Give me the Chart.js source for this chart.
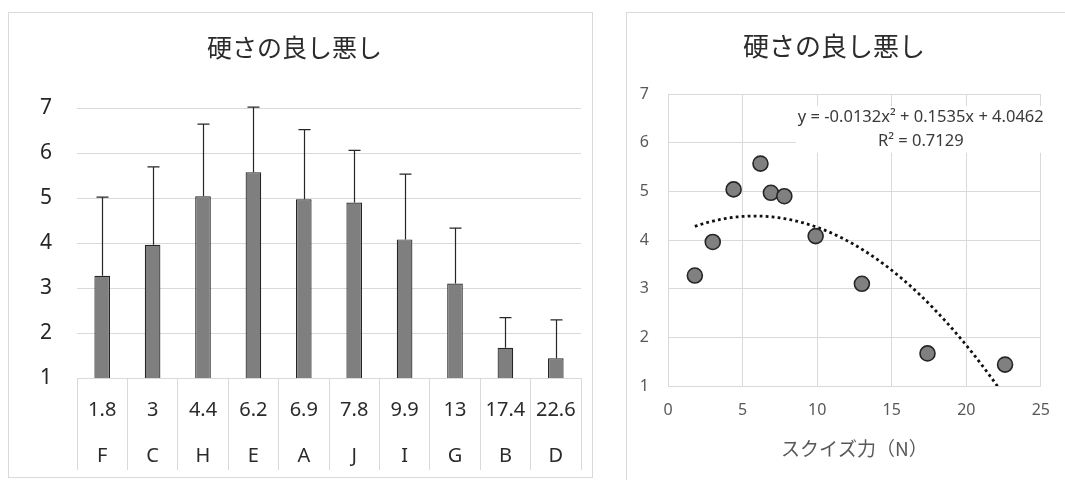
<!DOCTYPE html>
<html>
<head>
<meta charset="utf-8">
<script src="https://cdn.jsdelivr.net/npm/chart.js@4/dist/chart.umd.min.js"></script>
<style>
  html, body { margin: 0; padding: 0; background: #ffffff; }
  body { width: 1065px; height: 480px; position: relative; overflow: hidden; }
  .frame { position: absolute; border: 1px solid #d9d9d9; box-sizing: border-box; }
  .holder { position: absolute; }
  canvas { display: block; }
</style>
</head>
<body>
<div class="frame" style="left:8px;top:12px;width:585px;height:466px;"></div>
<div class="frame" style="left:626px;top:12px;width:460px;height:480px;"></div>
<div class="holder" style="left:8px;top:12px;"><canvas id="barChart" width="584" height="465"></canvas></div>
<div class="holder" style="left:626px;top:12px;"><canvas id="scatterChart" width="439" height="468"></canvas></div>
<script>
// Samples, sorted by squeeze force (N)
const sampleNames = ['F', 'C', 'H', 'E', 'A', 'J', 'I', 'G', 'B', 'D'];
const squeezeForce = [1.8, 3, 4.4, 6.2, 6.9, 7.8, 9.9, 13, 17.4, 22.6];
// Mean hardness rating and its standard deviation (upper error bar)
const hardnessMean = [3.27, 3.96, 5.04, 5.57, 4.97, 4.90, 4.08, 3.10, 1.67, 1.44];
const hardnessSD = [1.75, 1.73, 1.60, 1.45, 1.55, 1.16, 1.45, 1.23, 0.67, 0.85];
// Quadratic trendline: y = a x^2 + b x + c
const trendCoef = [-0.0132, 0.1535, 4.0462];
const trendR2 = 0.7129;

const chartTitle = '硬さの良し悪し';
const xAxisTitle = 'スクイズ力（N）';

const jpFont = "'Noto Sans CJK JP', 'Noto Sans', sans-serif";
const latinFont = "'Noto Sans', 'Open Sans', sans-serif";

// Upper error bars drawn over each bar, through the value scale
const errorBarPlugin = {
  id: 'errorBars',
  afterDatasetsDraw(chart) {
    const meta = chart.getDatasetMeta(0);
    const ys = chart.scales.y;
    const ctx = chart.ctx;
    ctx.save();
    ctx.strokeStyle = '#262626';
    ctx.lineWidth = 1.2;
    meta.data.forEach((bar, i) => {
      const x = Math.round(bar.x) + 0.5;
      const yTop = ys.getPixelForValue(hardnessMean[i] + hardnessSD[i]);
      const yBase = ys.getPixelForValue(hardnessMean[i]);
      ctx.beginPath();
      ctx.moveTo(x, yBase);
      ctx.lineTo(x, yTop);
      ctx.moveTo(x - 6, yTop);
      ctx.lineTo(x + 6, yTop);
      ctx.stroke();
    });
    ctx.restore();
  }
};

new Chart(document.getElementById('barChart'), {
  type: 'bar',
  data: {
    labels: sampleNames.map((name, i) => [String(squeezeForce[i]), name]),
    datasets: [{
      data: hardnessMean,
      backgroundColor: '#7f7f7f',
      borderColor: '#262626',
      borderWidth: 1.2,
      categoryPercentage: 1,
      barPercentage: 0.31
    }]
  },
  options: {
    responsive: false,
    animation: false,
    devicePixelRatio: 1,
    layout: { padding: { left: 0, right: 11, top: 0, bottom: 0 } },
    plugins: {
      legend: { display: false },
      tooltip: { enabled: false },
      title: {
        display: true,
        text: chartTitle,
        color: '#2b2b2b',
        font: { family: jpFont, size: 25, weight: 'normal', lineHeight: 1.2 },
        padding: { top: 20, bottom: 46 }
      }
    },
    scales: {
      x: {
        grid: { offset: true, drawOnChartArea: false, drawTicks: true, tickLength: 92, color: '#d9d9d9', lineWidth: 1 },
        border: { display: true, color: '#d9d9d9' },
        ticks: {
          color: '#2b2b2b',
          font: { family: latinFont, size: 20, lineHeight: '46px' },
          padding: -83,
          maxRotation: 0,
          autoSkip: false
        },
        afterFit(scale) { scale.height = 99; }
      },
      y: {
        min: 1,
        max: 7,
        grid: { color: '#d9d9d9', drawTicks: false },
        border: { display: false },
        ticks: {
          stepSize: 1,
          color: '#262626',
          font: { family: latinFont, size: 21 },
          padding: 25
        },
        afterFit(scale) { scale.width = 69; }
      }
    }
  },
  plugins: [errorBarPlugin]
});

// Trendline sampled across the measured force range from the fitted coefficients
const trendPoints = [];
for (let x = squeezeForce[0]; x <= squeezeForce[squeezeForce.length - 1] + 1e-9; x += 0.1) {
  trendPoints.push({ x: x, y: trendCoef[0] * x * x + trendCoef[1] * x + trendCoef[2] });
}

function fmtTerm(v) {
  return (v < 0 ? '- ' : '+ ') + Math.abs(v).toFixed(4);
}
const equationText = 'y = ' + (trendCoef[0] < 0 ? '-' : '') + Math.abs(trendCoef[0]).toFixed(4) + 'x² ' +
  fmtTerm(trendCoef[1]) + 'x ' + fmtTerm(trendCoef[2]);
const r2Text = 'R² = ' + trendR2.toFixed(4);

// Trendline equation label, anchored in data coordinates
const equationPlugin = {
  id: 'trendEquation',
  afterDatasetsDraw(chart) {
    const xs = chart.scales.x, ys = chart.scales.y, ctx = chart.ctx;
    const cx = xs.getPixelForValue(16.95);
    const y1 = ys.getPixelForValue(6.53);
    const y2 = ys.getPixelForValue(6.02);
    ctx.save();
    ctx.font = '16.5px ' + latinFont;
    const w = ctx.measureText(equationText).width;
    ctx.fillStyle = '#ffffff';
    ctx.fillRect(cx - w / 2 - 2, y1 - 11, w + 4, y2 - y1 + 22);
    ctx.fillStyle = '#3a3a3a';
    ctx.textAlign = 'center';
    ctx.textBaseline = 'middle';
    ctx.fillText(equationText, cx, y1);
    ctx.fillText(r2Text, cx, y2);
    ctx.restore();
  }
};

new Chart(document.getElementById('scatterChart'), {
  type: 'scatter',
  data: {
    datasets: [
      {
        data: squeezeForce.map((x, i) => ({ x: x, y: hardnessMean[i] })),
        pointRadius: 7.5,
        pointBackgroundColor: '#808080',
        pointBorderColor: '#262626',
        pointBorderWidth: 1.6,
        showLine: false
      },
      {
        type: 'line',
        data: trendPoints,
        borderColor: '#111111',
        borderWidth: 2.8,
        borderDash: [2.8, 3.2],
        pointRadius: 0,
        fill: false,
        tension: 0,
        clip: 0
      }
    ]
  },
  options: {
    responsive: false,
    animation: false,
    devicePixelRatio: 1,
    layout: { padding: { left: 0, right: 23, top: 0, bottom: 20 } },
    plugins: {
      legend: { display: false },
      tooltip: { enabled: false },
      title: {
        display: true,
        text: chartTitle,
        color: '#2b2b2b',
        font: { family: jpFont, size: 26, weight: 'normal', lineHeight: 1.2 },
        padding: { top: 19, bottom: 31.8 }
      }
    },
    scales: {
      x: {
        type: 'linear',
        min: 0,
        max: 25,
        grid: { color: '#d9d9d9', drawTicks: false },
        border: { display: true, color: '#d9d9d9' },
        ticks: {
          stepSize: 5,
          color: '#595959',
          font: { family: latinFont, size: 16 },
          padding: 15
        },
        title: {
          display: true,
          text: xAxisTitle,
          color: '#595959',
          font: { family: jpFont, size: 19, weight: 'normal', lineHeight: 1.2 },
          padding: 0
        },
        afterFit(scale) { scale.height = 74; }
      },
      y: {
        min: 1,
        max: 7,
        grid: { color: '#d9d9d9', drawTicks: false },
        border: { display: true, color: '#d9d9d9' },
        ticks: {
          stepSize: 1,
          color: '#595959',
          font: { family: latinFont, size: 16 },
          padding: 19
        },
        afterFit(scale) { scale.width = 42; }
      }
    }
  },
  plugins: [equationPlugin]
});
</script>
</body>
</html>
